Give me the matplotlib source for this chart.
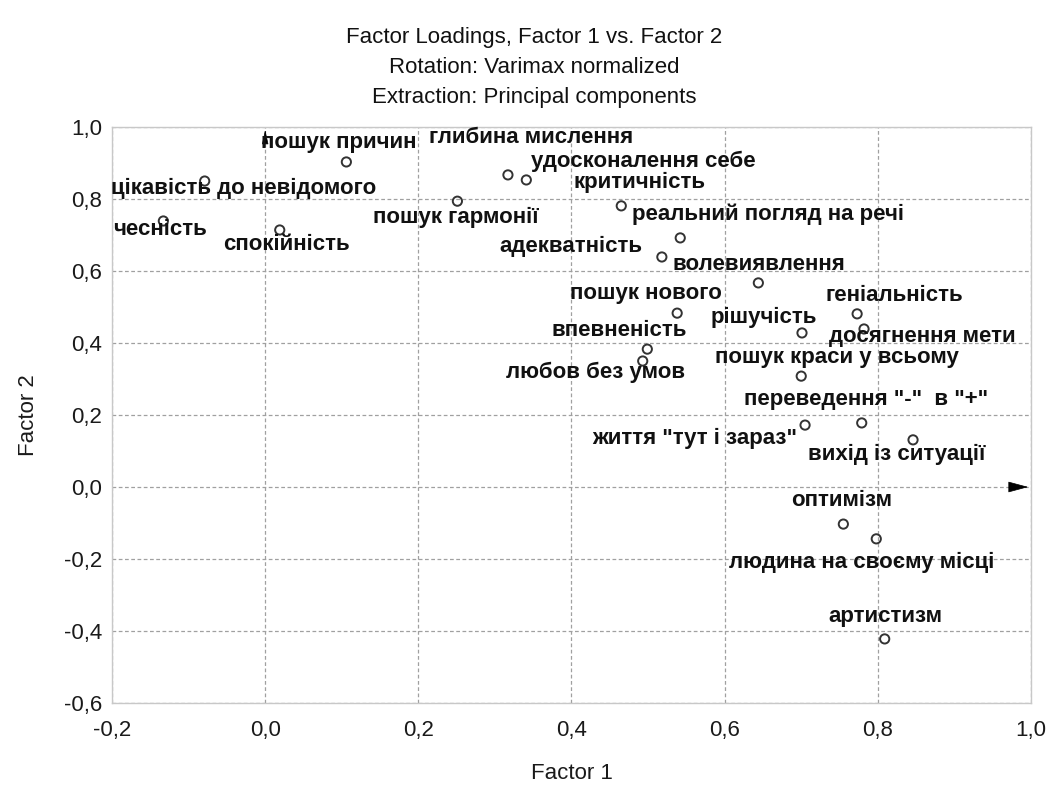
import numpy as np
import matplotlib as mpl

mpl.use('Agg')

import matplotlib.pyplot as plt
from matplotlib.ticker import FuncFormatter, MultipleLocator

# factor loadings
labels = [
    'цікавість до невідомого', 'чесність', 'пошук причин', 'спокійність',
    'пошук гармонії', 'глибина мислення', 'удосконалення себе', 'критичність',
    'реальний погляд на речі', 'адекватність', 'волевиявлення', 'пошук нового',
    'геніальність', 'рішучість', 'досягнення мети', 'впевненість',
    'любов без умов', 'пошук краси у всьому', 'життя "тут і зараз"',
    'переведення "-"  в "+"', 'вихід із ситуації', 'оптимізм',
    'людина на своєму місці', 'артистизм',
]
factor1 = [-0.079, -0.133, 0.106, 0.019, 0.251, 0.317, 0.341, 0.465,
           0.542, 0.518, 0.644, 0.538, 0.773, 0.701, 0.782, 0.499,
           0.493, 0.700, 0.705, 0.779, 0.846, 0.755, 0.798, 0.809]
factor2 = [0.850, 0.739, 0.903, 0.714, 0.794, 0.867, 0.853, 0.781,
           0.692, 0.639, 0.567, 0.483, 0.481, 0.428, 0.439, 0.383,
           0.350, 0.308, 0.172, 0.178, 0.131, -0.103, -0.144, -0.422]

# label placement: offset of label centre from its point, in pixels (x right, y down)
label_offsets = [(39, 7), (-3, 9), (-8, -19), (7, 15), (-2, 16), (23, -37),
                 (117, -19), (18, -23), (88, -24), (-91, -11), (1, -18),
                 (-31, -20), (37, -18), (-38, -15), (58, 8), (-28, -19),
                 (-47, 11), (36, -19), (-110, 13), (4, -23), (-16, 15),
                 (-2, -24), (-15, 24), (1, -22)]

titles = ['Factor Loadings, Factor 1 vs. Factor 2',
          'Rotation: Varimax normalized',
          'Extraction: Principal components']

plt.rcParams['font.family'] = ['Liberation Sans', 'DejaVu Sans']

fig = plt.figure(figsize=(10.52, 7.89), dpi=100)
ax = fig.add_axes([0.1065, 0.109, 0.8735, 0.730])

ax.set_xlim(-0.2, 1.0)
ax.set_ylim(-0.6, 1.0)
ax.xaxis.set_major_locator(MultipleLocator(0.2))
ax.yaxis.set_major_locator(MultipleLocator(0.2))
comma = FuncFormatter(lambda v, pos: ('%.1f' % v).replace('.', ',').replace('-0,0', '0,0'))
ax.xaxis.set_major_formatter(comma)
ax.yaxis.set_major_formatter(comma)
ax.tick_params(axis='both', length=0, labelsize=16, colors='#1a1a1a')
ax.tick_params(axis='x', pad=12)
ax.tick_params(axis='y', pad=7)
for s in ax.spines.values():
    s.set_color('#c8c8c8')
    s.set_linewidth(1.0)
ax.grid(True, color='#a0a0a0', linestyle=(0, (3, 2)), linewidth=0.9)
ax.set_axisbelow(True)

ax.scatter(factor1, factor2, s=44, facecolors='none', edgecolors='#333333', linewidths=1.4, zorder=3)

px = 0.72  # points per pixel at 100 dpi
for name, x, y, (dx, dy) in zip(labels, factor1, factor2, label_offsets):
    ax.annotate(name, (x, y), xytext=(dx * px, -dy * px), textcoords='offset points',
                ha='center', va='center', fontsize=16, fontweight='bold', color='#111111', zorder=4)

# arrow heads on the zero axes
ax.annotate('', xy=(1.0, 0.0), xytext=(0.97, 0.0),
            arrowprops=dict(arrowstyle='-|>,head_length=1.3,head_width=0.35', color='black', lw=0.5),
            annotation_clip=False)
ax.annotate('', xy=(0.0, 1.0), xytext=(0.0, 0.97),
            arrowprops=dict(arrowstyle='-|>,head_length=0.9,head_width=0.2', color='black', lw=0.5),
            annotation_clip=False)

ax.set_xlabel('Factor 1', fontsize=16, labelpad=16, color='#1a1a1a')
ax.set_ylabel('Factor 2', fontsize=16, labelpad=18, color='#1a1a1a')

for i, t in enumerate(titles):
    fig.text(0.508, 1 - (37 + 30.5 * i) / 789, t, ha='center', va='center', fontsize=16,
             color='#111111')

fig.savefig('out.png', dpi=100, facecolor='white')
